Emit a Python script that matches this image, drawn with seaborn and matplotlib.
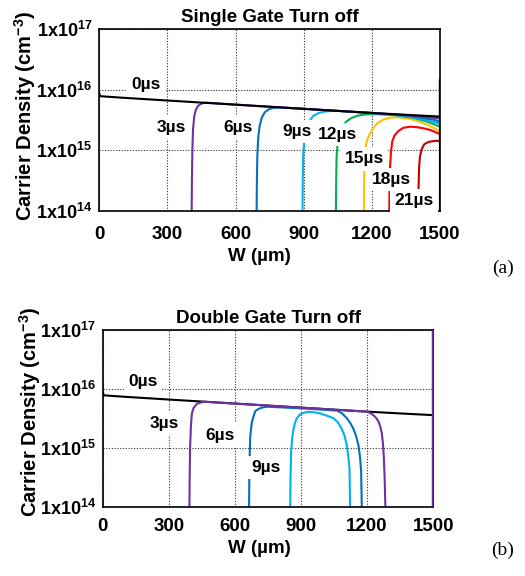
import numpy as np
import pandas as pd
import matplotlib
matplotlib.use('Agg')
import matplotlib.pyplot as plt
import seaborn as sns

# W (um) and carrier density (cm^-3)
# initial profile, 0 us (same in both panels)
w_0us = [0, 4, 100, 300, 600, 900, 1200, 1350, 1500, 1500, 1500]
n_0us = [8.8e15, 7.8e15, 7.37e15, 6.62e15, 5.66e15, 4.83e15, 4.13e15, 3.85e15, 3.6e15, 1.45e16, 1e14]

# single gate
w_s3 = [407, 408, 410, 413, 418, 425, 435, 450, 470, 600, 900, 1200, 1350, 1420, 1470, 1500]
n_s3 = [1e14, 3e14, 1e15, 2.2e15, 3.6e15, 4.6e15, 5.4e15, 5.9e15, 6.1e15, 5.66e15, 4.83e15, 4.13e15, 3.8e15, 3.6e15, 3.45e15, 3.35e15]
w_s6 = [693, 694, 696, 700, 706, 715, 728, 745, 765, 790, 900, 1200, 1350, 1420, 1470, 1500]
n_s6 = [1e14, 3e14, 8e14, 1.6e15, 2.5e15, 3.4e15, 4.2e15, 4.7e15, 5.0e15, 5.1e15, 4.83e15, 4.13e15, 3.75e15, 3.45e15, 3.2e15, 3.0e15]
w_s9 = [895, 896, 898, 903, 912, 925, 942, 965, 990, 1020, 1060, 1200, 1340, 1410, 1460, 1500]
n_s9 = [1e14, 3e14, 8e14, 1.5e15, 2.3e15, 3.0e15, 3.7e15, 4.1e15, 4.35e15, 4.45e15, 4.45e15, 4.1e15, 3.7e15, 3.35e15, 3.0e15, 2.75e15]
w_s12 = [1042, 1043, 1045, 1050, 1058, 1070, 1089, 1110, 1135, 1170, 1220, 1300, 1380, 1440, 1500]
n_s12 = [1e14, 3e14, 8e14, 1.4e15, 2.0e15, 2.5e15, 3.0e15, 3.4e15, 3.7e15, 3.9e15, 3.95e15, 3.8e15, 3.45e15, 3.0e15, 2.45e15]
w_s15 = [1165, 1166, 1168, 1172, 1180, 1192, 1206, 1225, 1250, 1280, 1310, 1350, 1400, 1450, 1500]
n_s15 = [1e14, 3e14, 7e14, 1.1e15, 1.5e15, 1.9e15, 2.3e15, 2.8e15, 3.2e15, 3.45e15, 3.5e15, 3.4e15, 3.05e15, 2.6e15, 2.05e15]
w_s18 = [1277, 1278, 1280, 1284, 1290, 1300, 1315, 1338, 1370, 1400, 1430, 1460, 1500]
n_s18 = [1e14, 2.5e14, 5e14, 9e14, 1.4e15, 1.75e15, 2.05e15, 2.35e15, 2.45e15, 2.4e15, 2.3e15, 2.15e15, 1.85e15]
w_s21 = [1405, 1406, 1408, 1412, 1420, 1430, 1445, 1460, 1480, 1500]
n_s21 = [1e14, 2.5e14, 5e14, 8e14, 1.05e15, 1.25e15, 1.35e15, 1.4e15, 1.43e15, 1.43e15]

# double gate
w_d3 = [393, 394, 396, 400, 404, 412, 427, 457, 600, 900, 1199, 1215, 1229, 1242, 1252, 1260, 1267, 1272, 1276, 1280, 1283]
n_d3 = [1e14, 3e14, 1e15, 2.4e15, 3.8e15, 4.8e15, 5.6e15, 6.1e15, 5.66e15, 4.83e15, 4.13e15, 3.9e15, 3.6e15, 3.2e15, 2.8e15, 2.3e15, 1.76e15, 1.2e15, 7e14, 3e14, 1e14]
w_d6 = [664, 665, 667, 669, 673, 677, 684, 692, 703, 714, 730, 745, 900, 1063, 1085, 1108, 1125, 1138, 1150, 1161, 1168, 1173, 1176]
n_d6 = [1e14, 3e14, 8e14, 1.5e15, 2.1e15, 2.8e15, 3.4e15, 4.2e15, 4.5e15, 4.7e15, 4.9e15, 5.0e15, 4.7e15, 4.3e15, 3.9e15, 3.2e15, 2.6e15, 2.1e15, 1.6e15, 1.1e15, 7e14, 4e14, 1e14]
w_d9 = [851, 852, 855, 860, 866, 873, 881, 892, 904, 918, 934, 955, 987, 1015, 1047, 1068, 1085, 1098, 1108, 1115, 1120, 1123]
n_d9 = [1e14, 3e14, 8.6e14, 1.5e15, 2.1e15, 2.7e15, 3.2e15, 3.6e15, 3.85e15, 4.0e15, 4.1e15, 4.05e15, 3.85e15, 3.55e15, 3.2e15, 2.7e15, 2.1e15, 1.6e15, 1.1e15, 7e14, 4.5e14, 1e14]

colors = {'0µs': 'black', '3µs': '#7030A0', '6µs': '#0070C0', '9µs': '#00B0F0',
          '12µs': '#00B050', '15µs': '#FFC000', '18µs': '#FF0000', '21µs': '#C00000'}


def to_df(curves):
    parts = [pd.DataFrame({'W': w, 'n': n, 't': t}) for t, (w, n) in curves.items()]
    return pd.concat(parts, ignore_index=True)


single = to_df({'21µs': (w_s21, n_s21), '18µs': (w_s18, n_s18), '15µs': (w_s15, n_s15),
                '12µs': (w_s12, n_s12), '9µs': (w_s9, n_s9), '6µs': (w_s6, n_s6),
                '3µs': (w_s3, n_s3), '0µs': (w_0us, n_0us)})
double = to_df({'0µs': (w_0us, n_0us), '9µs': (w_d9, n_d9), '6µs': (w_d6, n_d6),
                '3µs': (w_d3, n_d3)})

sns.set_style('white')
plt.rcParams['font.family'] = ['Liberation Sans', 'DejaVu Sans']
plt.rcParams['mathtext.default'] = 'bf'
plt.rcParams['mathtext.fontset'] = 'custom'
plt.rcParams['mathtext.bf'] = 'Liberation Sans:bold'
plt.rcParams['mathtext.rm'] = 'Liberation Sans'
for k in ['text.color', 'axes.labelcolor', 'xtick.color', 'ytick.color']:
    plt.rcParams[k] = 'black'

fig = plt.figure(figsize=(5.25, 5.76), dpi=100)
ax1 = fig.add_axes([0.189, 0.6337, 0.649, 0.316])
ax2 = fig.add_axes([0.196, 0.120, 0.629, 0.307])


def style_axes(ax, title, xpad, xlab_xy, ylab_y):
    ax.set_yscale('log')
    ax.set_xlim(0, 1500)
    ax.set_ylim(1e14, 1e17)
    ax.set_xticks([0, 300, 600, 900, 1200, 1500])
    ax.set_xticklabels(['0', '300', '600', '900', '1200', '1500'], fontsize=13.5, fontweight='bold')
    ax.set_yticks([1e14, 1e15, 1e16, 1e17])
    ax.set_yticklabels(['$1x10^{14}$', '$1x10^{15}$', '$1x10^{16}$', '$1x10^{17}$'], fontsize=13)
    ax.yaxis.set_minor_locator(plt.NullLocator())
    ax.tick_params(axis='x', length=0, pad=xpad)
    ax.tick_params(axis='y', length=0, pad=5)
    ax.grid(True, which='major', color='#333333', linestyle=(0, (1, 1.5)), linewidth=0.8)
    for s in ax.spines.values():
        s.set_color('black')
        s.set_linewidth(1.2)
    ax.set_title(title, fontsize=13.5, fontweight='bold', pad=5)
    ax.set_xlabel('W (µm)', fontsize=13.5, fontweight='bold')
    ax.xaxis.set_label_coords(*xlab_xy)
    ax.set_ylabel('Carrier Density (cm$^{-3}$)', fontsize=14.5, fontweight='bold')
    ax.yaxis.set_label_coords(-0.18, ylab_y)


def put_labels(ax, labels):
    for s, x, y in labels:
        ax.text(x, y, s, ha='center', va='center', fontsize=12.5, fontweight='bold',
                bbox=dict(fc='white', ec='none', pad=3), zorder=5)


sns.lineplot(data=single, x='W', y='n', hue='t', palette=colors, sort=False,
             estimator=None, legend=False, linewidth=1.5, ax=ax1)
style_axes(ax1, 'Single Gate Turn off', 11, (0.469, -0.205), 0.52)
put_labels(ax1, [('0µs', 206, 1.2e16), ('3µs', 316, 2.4e15), ('6µs', 612, 2.4e15),
                 ('9µs', 873, 2.04e15), ('12µs', 1051, 1.8e15), ('15µs', 1166, 7.2e14),
                 ('18µs', 1286, 3.3e14), ('21µs', 1386, 1.48e14)])

sns.lineplot(data=double, x='W', y='n', hue='t', palette=colors, sort=False,
             estimator=None, legend=False, linewidth=1.5, ax=ax2)
style_axes(ax2, 'Double Gate Turn off', 8, (0.473, -0.19), 0.54)
ax2.axvline(1500, color=colors['3µs'], linewidth=2.5, zorder=4)
put_labels(ax2, [('0µs', 184, 1.32e16), ('3µs', 279, 2.6e15), ('6µs', 531, 1.65e15),
                 ('9µs', 743, 4.6e14)])

fig.text(503 / 525, 1 - 268 / 576, '(a)', fontsize=14, family='Liberation Serif', ha='center', va='center')
fig.text(503 / 525, 1 - 550 / 576, '(b)', fontsize=14, family='Liberation Serif', ha='center', va='center')

fig.savefig('out.png', dpi=100)
